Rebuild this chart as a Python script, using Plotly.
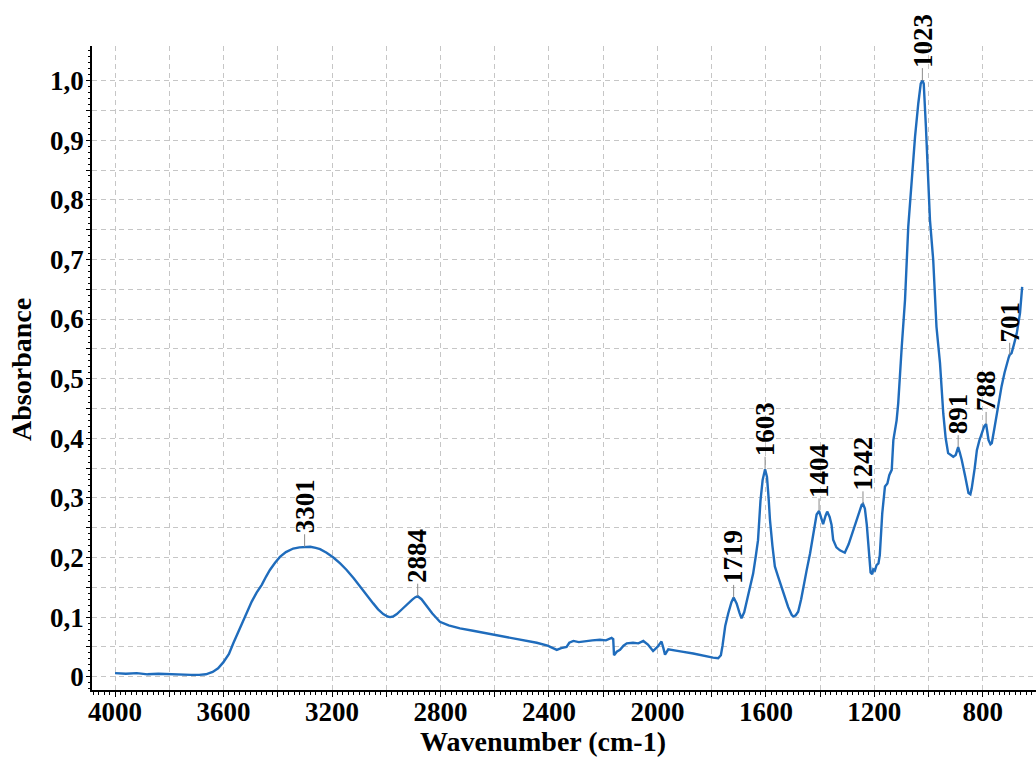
import plotly.graph_objects as go

# FTIR absorbance spectrum (wavenumber in cm-1, descending)
wavenumber = [
    4000, 3960, 3920, 3880, 3840, 3800, 3760, 3720, 3690, 3665, 3640, 3620, 3601,
    3580, 3564, 3545, 3527, 3510, 3496, 3478, 3459, 3443, 3429, 3410, 3392,
    3370, 3343, 3320, 3301, 3280, 3260, 3244, 3220, 3195, 3170, 3146, 3120,
    3097, 3070, 3048, 3030, 3011, 2995, 2986, 2975, 2961, 2940, 2925, 2905,
    2894, 2884, 2870, 2851, 2830, 2814, 2802, 2770, 2728, 2680, 2630, 2580,
    2531, 2490, 2445, 2405, 2380, 2371, 2355, 2335, 2325, 2310, 2290, 2261,
    2240, 2212, 2190, 2169, 2163, 2160, 2150, 2138, 2125, 2113, 2090, 2070,
    2052, 2035, 2016, 2000, 1990, 1985, 1978, 1972, 1960, 1942, 1910, 1868,
    1840, 1819, 1795, 1776, 1766, 1760, 1750, 1739, 1727, 1719, 1708, 1698,
    1690, 1680, 1672, 1660, 1647, 1638, 1629, 1620, 1612, 1603, 1596, 1590,
    1585, 1576, 1567, 1555, 1542, 1530, 1518, 1505, 1499, 1490, 1481, 1470,
    1462, 1450, 1437, 1425, 1413, 1404, 1395, 1389, 1380, 1374, 1365, 1358,
    1352, 1340, 1327, 1309, 1295, 1278, 1262, 1247, 1242, 1235, 1228, 1223,
    1214, 1208, 1204, 1198, 1192, 1185, 1180, 1171, 1161, 1152, 1145, 1136,
    1130, 1118, 1112, 1099, 1087, 1075, 1063, 1050, 1038, 1029, 1023, 1018,
    1010, 1003, 995, 983, 971, 958, 946, 937, 928, 918, 909, 900,
    891, 885, 878, 865, 853, 846, 841, 830, 822, 813, 804, 795,
    788, 783, 779, 772, 767, 758, 748, 740, 731, 720, 712, 705,
    701, 694, 685, 675, 663, 655,
]
absorbance = [
    0.006, 0.005, 0.006, 0.004, 0.005, 0.004, 0.003, 0.003, 0.003, 0.004, 0.008, 0.014, 0.024,
    0.038, 0.056, 0.076, 0.095, 0.112, 0.126, 0.141, 0.154, 0.168, 0.179, 0.191, 0.201,
    0.209, 0.215, 0.217, 0.218, 0.218, 0.216, 0.214, 0.208, 0.200, 0.190, 0.179, 0.165,
    0.151, 0.136, 0.123, 0.113, 0.105, 0.101, 0.100, 0.101, 0.105, 0.114, 0.121, 0.129,
    0.133, 0.135, 0.130, 0.118, 0.106, 0.098, 0.092, 0.086, 0.081, 0.077, 0.073, 0.069,
    0.065, 0.061, 0.057, 0.052, 0.047, 0.045, 0.048, 0.050, 0.057, 0.060, 0.058, 0.060,
    0.061, 0.062, 0.061, 0.065, 0.063, 0.036, 0.042, 0.045, 0.052, 0.056, 0.057, 0.056,
    0.060, 0.054, 0.043, 0.050, 0.055, 0.059, 0.048, 0.037, 0.046, 0.045, 0.042, 0.039,
    0.036, 0.034, 0.032, 0.031, 0.036, 0.052, 0.085, 0.106, 0.125, 0.133, 0.123, 0.108,
    0.098, 0.108, 0.123, 0.145, 0.173, 0.200, 0.229, 0.295, 0.330, 0.348, 0.335, 0.300,
    0.263, 0.220, 0.185, 0.168, 0.151, 0.133, 0.117, 0.104, 0.101, 0.103, 0.109, 0.130,
    0.151, 0.178, 0.207, 0.240, 0.272, 0.278, 0.262, 0.256, 0.270, 0.277, 0.268, 0.255,
    0.230, 0.217, 0.212, 0.208, 0.222, 0.246, 0.270, 0.288, 0.290, 0.282, 0.255, 0.230,
    0.175, 0.172, 0.180, 0.178, 0.187, 0.190, 0.204, 0.274, 0.319, 0.324, 0.338, 0.347,
    0.397, 0.430, 0.459, 0.554, 0.632, 0.755, 0.828, 0.906, 0.962, 0.995, 1.000, 0.995,
    0.923, 0.840, 0.766, 0.699, 0.587, 0.526, 0.442, 0.400, 0.375, 0.372, 0.369, 0.372,
    0.385, 0.376, 0.364, 0.336, 0.308, 0.306, 0.316, 0.350, 0.380, 0.396, 0.408, 0.420,
    0.424, 0.412, 0.397, 0.390, 0.392, 0.415, 0.442, 0.465, 0.487, 0.510, 0.526, 0.535,
    0.540, 0.543, 0.558, 0.576, 0.610, 0.654,
]

# Labelled band positions and their absorbance
peak_labels = ["3301", "2884", "1719", "1603", "1404", "1242", "1023", "891", "788", "701"]
peak_wavenumber = [3301, 2884, 1719, 1603, 1404, 1242, 1023, 891, 788, 701]
peak_absorbance = [0.218, 0.135, 0.133, 0.348, 0.278, 0.290, 1.000, 0.385, 0.424, 0.540]

# Axis ticks
x_tick_vals = [4000, 3800, 3600, 3400, 3200, 3000, 2800, 2600, 2400, 2200,
               2000, 1800, 1600, 1400, 1200, 1000, 800]
x_tick_labels = ["4000", "", "3600", "", "3200", "", "2800", "", "2400", "",
                 "2000", "", "1600", "", "1200", "", "800"]
y_tick_vals = [0, 0.05, 0.1, 0.15, 0.2, 0.25, 0.3, 0.35, 0.4, 0.45, 0.5,
               0.55, 0.6, 0.65, 0.7, 0.75, 0.8, 0.85, 0.9, 0.95, 1.0]
y_tick_labels = ["0", "", "0,1", "", "0,2", "", "0,3", "", "0,4", "", "0,5",
                 "", "0,6", "", "0,7", "", "0,8", "", "0,9", "", "1,0"]

SERIF = "Liberation Serif, Times New Roman, serif"
bold = lambda size: dict(family=SERIF, size=size, color="black", weight="bold")

fig = go.Figure()
fig.add_trace(go.Scatter(
    x=wavenumber, y=absorbance, mode="lines",
    line=dict(color="#1f6cbc", width=2.4),
    showlegend=False, hoverinfo="x+y",
))

grid = dict(showgrid=True, gridcolor="#c6c6c6", gridwidth=1, griddash="5px,4px")

fig.update_xaxes(
    range=[4085, 604], tickmode="array", tickvals=x_tick_vals, ticktext=x_tick_labels,
    ticks="outside", ticklen=5, tickwidth=1.3, tickcolor="black",
    minor=dict(ticks="outside", dtick=20, tick0=0, ticklen=3, tickwidth=1,
               tickcolor="black", showgrid=False),
    showline=True, linecolor="black", linewidth=1.6, zeroline=False,
    tickfont=bold(27), ticklabelstandoff=-8, **grid,
)
fig.update_yaxes(
    range=[-0.0223, 1.058], tickmode="array", tickvals=y_tick_vals, ticktext=y_tick_labels,
    ticks="outside", ticklen=4, tickwidth=1.3, tickcolor="black",
    minor=dict(ticks="outside", dtick=0.01, tick0=0, ticklen=2, tickwidth=1,
               tickcolor="black", showgrid=False),
    showline=True, linecolor="black", linewidth=1.6, zeroline=False,
    tickfont=bold(27), ticklabelstandoff=-3, **grid,
)

for lab, w, a in zip(peak_labels, peak_wavenumber, peak_absorbance):
    fig.add_annotation(
        x=w, y=a, text=lab, textangle=-90, showarrow=True,
        arrowhead=0, arrowwidth=1, arrowcolor="#8a8a8a",
        ax=0, ay=-(12 + len(lab) * 7), font=bold(27), borderpad=0,
    )

# Axis titles
fig.add_annotation(xref="paper", yref="paper", x=0.478, y=0, yshift=-68,
                   xanchor="center", yanchor="bottom", showarrow=False,
                   text="Wavenumber (cm-1)", font=bold(28), borderpad=0)
fig.add_annotation(xref="paper", yref="paper", x=0, y=0.497, xshift=-70,
                   xanchor="center", yanchor="middle", showarrow=False,
                   textangle=-90, text="Absorbance", font=bold(28))

fig.update_layout(
    width=1036, height=758,
    margin=dict(l=92, r=0, t=46, b=68),
    plot_bgcolor="white", paper_bgcolor="white",
)

fig.write_html("out.html")
